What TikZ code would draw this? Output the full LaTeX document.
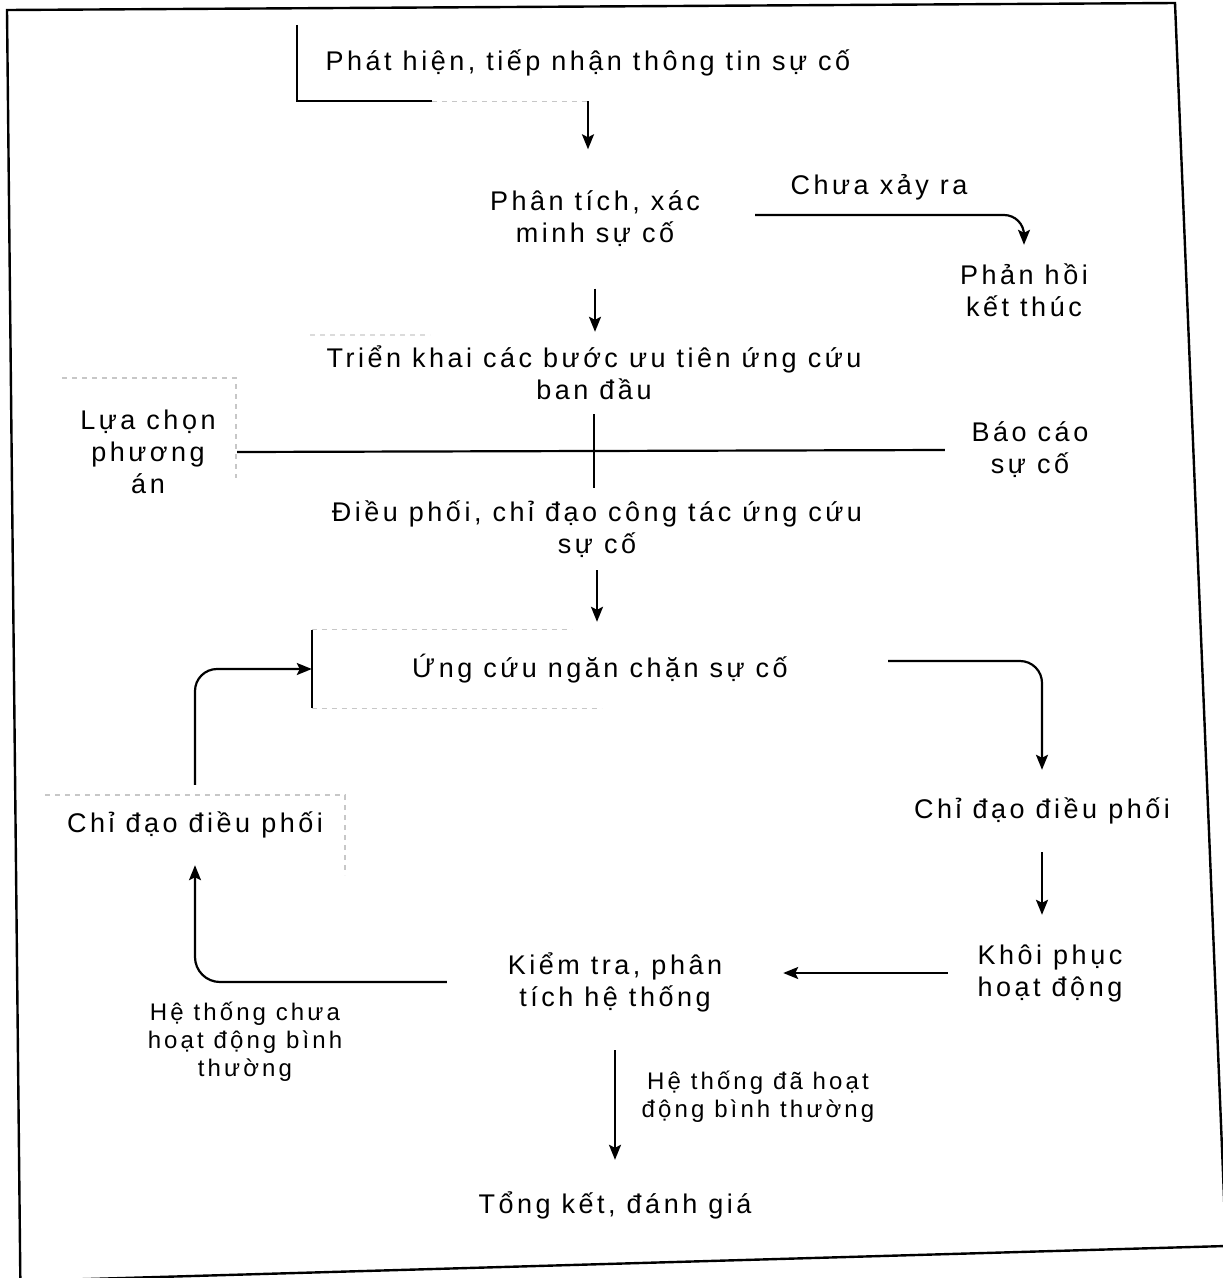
\documentclass[tikz,border=0pt]{standalone}
\usepackage{fontspec}
\setmainfont[LetterSpace=13]{Liberation Sans}
\usetikzlibrary{arrows.meta}
\newcommand\mainsz{\fontsize{27}{32}\selectfont}
\newcommand\smallsz{\fontsize{24}{28}\selectfont}
\tikzset{
  txt/.style={inner sep=0pt, align=center, font=\mainsz},
  lbl/.style={inner sep=0pt, align=center, font=\smallsz},
  arr/.style={-{Stealth[length=15pt,width=12pt,inset=3pt]}, line width=2.2pt},
  ln/.style={line width=2.2pt},
  faint/.style={black!22, line width=1.2pt, dash pattern=on 5pt off 5pt},
  frame/.style={line width=2.4pt}
}
\begin{document}
\begin{tikzpicture}[x=1pt,y=-1pt]
\useasboundingbox (0,0) rectangle (1223,1278);
% outer frame
\draw[frame] (20.5,1295) -- (7,10) -- (1175,3) -- (1226,1246) -- (20,1281);

% nodes
\node[txt, minimum width=582, minimum height=76] (n1) at (588,63) {Phát hiện, tiếp nhận thông tin sự cố};
\node[txt, minimum width=320, minimum height=139] (n2) at (595,219) {Phân tích, xác\\minh sự cố};
\node[txt] (chua) at (879,187) {Chưa xảy ra};
\node[txt, minimum width=180, minimum height=90] (ph) at (1024,290) {Phản hồi\\kết thúc};
\node[txt, minimum width=560, minimum height=82] (n3) at (594,373) {Triển khai các bước ưu tiên ứng cứu\\ban đầu};
\node[txt, minimum width=178] (lc) at (148,452) {Lựa chọn\\phương\\án};
\node[txt, minimum width=170] (bc) at (1030,450) {Báo cáo\\sự cố};
\node[txt, minimum width=560, minimum height=82] (n4) at (597,529) {Điều phối, chỉ đạo công tác ứng cứu\\sự cố};
\node[txt, minimum width=576, minimum height=78] (n5) at (600,669) {Ứng cứu ngăn chặn sự cố};
\node[txt, minimum width=270, minimum height=82] (n6) at (1042,811) {Chỉ đạo điều phối};
\node[txt, minimum width=204, minimum height=116] (n7) at (1050,973) {Khôi phục\\hoạt động};
\node[txt, minimum width=336, minimum height=136] (n8) at (615,982) {Kiểm tra, phân\\tích hệ thống};
\node[txt, minimum width=300, minimum height=80] (n9) at (195,825) {Chỉ đạo điều phối};
\node[txt, minimum width=300, minimum height=90] (n10) at (615,1205) {Tổng kết, đánh giá};
\node[lbl] (l1) at (245,1042) {Hệ thống chưa\\hoạt động bình\\thường};
\node[lbl] (l2) at (758,1097) {Hệ thống đã hoạt\\động bình thường};

% partial frames of boxes
\draw[ln] (n1.north west) -- (n1.south west) -- ([xshift=135pt]n1.south west);
\draw[faint] ([xshift=135pt]n1.south west) -- ([xshift=290pt]n1.south west);
\draw[ln] (n5.north west) -- (n5.south west);
\draw[faint] (n5.north west) -- ([xshift=260pt]n5.north west);
\draw[faint] (n5.south west) -- ([xshift=290pt]n5.south west);
\draw[faint] (62,378) -- (236,378) -- (236,478);
\draw[faint] (45,795) -- (345,795) -- (345,875);
\draw[faint, black!14] (310,335) -- (430,335);

% connectors
\draw[arr] (n1.south) -- (n1.south |- n2.north);
\draw[arr, rounded corners=20pt] ([yshift=4pt]n2.east) -| (ph.north);
\draw[arr] (n2.south) -- (n2.south |- n3.north);
\draw[ln] (n3.south) -- (n3.south |- n4.north);
\draw[ln] (lc.east) -- (bc.west);
\draw[arr, shorten >=8pt] (n4.south) -- (n4.south |- n5.north);
\draw[arr, rounded corners=22pt] ([yshift=8pt]n5.east) -| (n6.north);
\draw[arr] (n6.south) -- (n6.south |- n7.north);
\draw[arr] (n7.west) -- (n7.west -| n8.east);
\draw[arr, rounded corners=25pt] (n8.west) -| (n9.south);
\draw[arr, rounded corners=22pt] (n9.north) |- (n5.west);
\draw[arr] (n8.south) -- (n10.north);
\end{tikzpicture}
\end{document}
